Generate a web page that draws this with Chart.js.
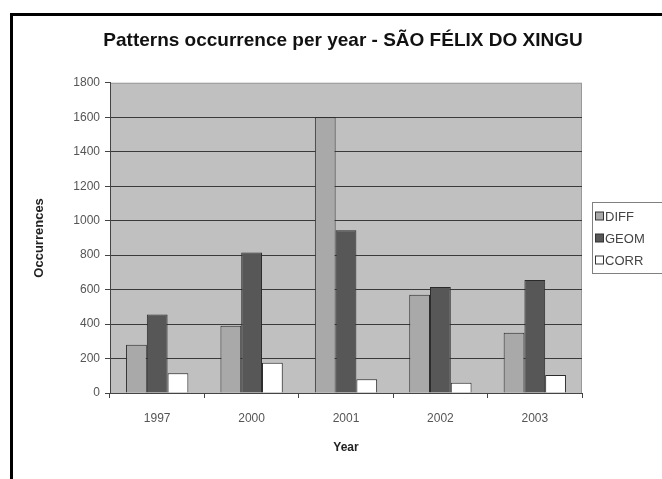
<!DOCTYPE html>
<html>
<head>
<meta charset="utf-8">
<script src="https://cdn.jsdelivr.net/npm/chart.js@4"></script>
<style>
body{margin:0;background:#fff}
canvas{display:block}
</style>
</head>
<body>
<canvas id="chart" width="662" height="479"></canvas>
<script>

const years = ["1997", "2000", "2001", "2002", "2003"]
const diffValues = [280, 390, 1600, 570, 350]
const geomValues = [455, 815, 945, 615, 655]
const corrValues = [115, 175, 80, 60, 105]

const seriesNames = ["DIFF", "GEOM", "CORR"]
const seriesColors = ["#a9a9a9", "#575757", "#ffffff"]

const FONT = "'Liberation Sans', Arial, sans-serif"

// grey plot area, black frame and boxed legend
const excelLook = {
  id: "excelLook",
  beforeDraw(chart){
    const a = chart.chartArea
    const c = chart.ctx
    c.save()
    c.fillStyle = "#c0c0c0"
    c.fillRect(a.left, a.top, a.right - a.left, a.bottom - a.top)
    c.strokeStyle = "#9a9a9a"
    c.lineWidth = 1
    c.strokeRect(a.left + 0.5, a.top + 0.5, a.right - a.left - 1, a.bottom - a.top)
    c.restore()
  },
  afterDraw(chart){
    const c = chart.ctx
    c.save()
    c.fillStyle = "#000"
    c.fillRect(10, 13, 3, 479 - 13)
    c.fillRect(10, 13, 652, 3)

    // legend
    const lx = 592, ly = 202, lh = 71
    c.fillStyle = "#fff"
    c.fillRect(lx, ly, 80, lh)
    c.strokeStyle = "#808080"
    c.lineWidth = 1
    c.strokeRect(lx + 0.5, ly + 0.5, 80, lh)
    c.font = "13px " + FONT
    c.textBaseline = "middle"
    chart.data.datasets.forEach((ds, i) => {
      const y = ly + 14 + i * 22
      c.fillStyle = ds.backgroundColor
      c.fillRect(lx + 3.5, y - 4, 8, 8)
      c.strokeStyle = "#333"
      c.strokeRect(lx + 3.5, y - 4, 8, 8)
      c.fillStyle = "#444"
      c.fillText(ds.label, lx + 13, y + 1)
    })
    c.restore()
  }
}

new Chart(document.getElementById("chart"), {
  type: "bar",
  data: {
    labels: years,
    datasets: [diffValues, geomValues, corrValues].map((vals, i) => ({
      label: seriesNames[i],
      data: vals,
      backgroundColor: seriesColors[i],
      borderColor: "#2a2a2a",
      borderWidth: 1,
      categoryPercentage: 0.66,
      barPercentage: 1.0
    }))
  },
  options: {
    responsive: false,
    animation: false,
    layout: { padding: { left: 24, right: 0, top: 0, bottom: 0 } },
    plugins: {
      legend: { display: false },
      tooltip: { enabled: false },
      title: {
        display: true,
        text: "Patterns occurrence per year - SÃO FÉLIX DO XINGU",
        color: "#111",
        font: { family: FONT, size: 19, weight: "bold" },
        padding: { top: 29, bottom: 31 }
      }
    },
    scales: {
      x: {
        offset: true,
        grid: { display: true, drawOnChartArea: false, tickLength: 5, tickColor: "#444" },
        border: { color: "#444" },
        ticks: { color: "#555", font: { family: FONT, size: 12 }, padding: 13 },
        title: {
          display: true,
          text: "Year",
          color: "#222",
          font: { family: FONT, size: 12, weight: "bold" },
          padding: { top: 0, bottom: 24 }
        },
        afterFit(scale){ scale.height = 479 - 393 }
      },
      y: {
        min: 0,
        max: 1800,
        ticks: {
          stepSize: 200,
          color: "#555",
          font: { family: FONT, size: 12 },
          padding: 5,
          callback: v => String(v)
        },
        grid: {
          color: ctx => ctx.tick && ctx.tick.value === 1800 ? "rgba(0,0,0,0)" : "#3a3a3a",
          tickColor: "#444",
          tickLength: 5
        },
        border: { color: "#444" },
        title: {
          display: true,
          text: "Occurrences",
          color: "#222",
          font: { family: FONT, size: 13, weight: "bold" },
          padding: { top: 8, bottom: 0 }
        },
        afterFit(scale){ scale.width = 110 - 24 }
      },
      y2: {
        position: "right",
        grid: { display: false },
        border: { display: false },
        ticks: { display: false },
        afterFit(scale){ scale.width = 662 - 582 }
      }
    }
  },
  plugins: [excelLook]
})

</script>
</body>
</html>
